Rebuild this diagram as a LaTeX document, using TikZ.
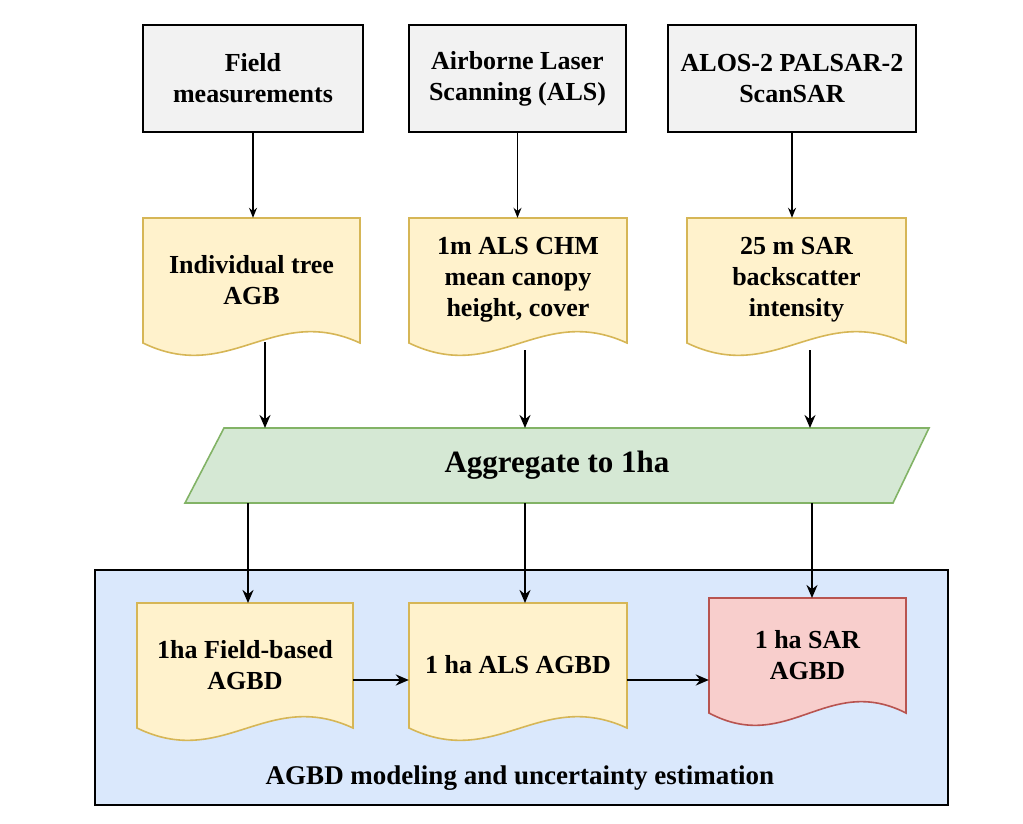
\documentclass[tikz,border=0pt]{standalone}
\usepackage{fontspec}
\setmainfont{Liberation Serif}
\usetikzlibrary{arrows.meta,calc}
\definecolor{gfill}{HTML}{F2F2F2}
\definecolor{yfill}{HTML}{FFF2CC}\definecolor{ydraw}{HTML}{D6B656}
\definecolor{rfill}{HTML}{F8CECC}\definecolor{rdraw}{HTML}{B85450}
\definecolor{grfill}{HTML}{D5E8D4}\definecolor{grdraw}{HTML}{82B366}
\definecolor{bfill}{HTML}{DAE8FC}
\newcommand{\docpath}[5]{% x1 y1 x2 y2 style
  \path[#5] (#1,#2) -- (#3,#2) -- (#3,#4-22)
    .. controls ({#1+0.6*(#3-#1)},#4-62) and ({#1+0.4*(#3-#1)},#4+20) .. (#1,#4-22) -- cycle;}
\tikzset{
  x=1pt,y=-1pt,
  txt/.style={font=\fontsize{26}{31}\selectfont\bfseries,align=center},
  src/.style={txt,draw=black,fill=gfill,line width=1.6pt,minimum width=#1,minimum height=107pt,inner sep=0},
  dnode/.style={txt,minimum width=#1,inner sep=0},
  thin/.style={-{Stealth[length=10pt,width=8pt]},line width=1.3pt},
  thick/.style={-{Stealth[length=13pt,width=11pt]},line width=2.2pt},
}
\begin{document}
\begin{tikzpicture}
\useasboundingbox (0,0) rectangle (1023,824);
% container
\draw[fill=bfill,line width=1.6pt] (95,570) rectangle (948,805);
\node[txt,font=\fontsize{27}{31}\selectfont\bfseries] (cap) at (520,778) {AGBD modeling and uncertainty estimation};
% sources
\node[src=220pt] (s1) at (253,78.5) {Field\\measurements};
\node[src=217pt] (s2) at (517.5,78.5) {Airborne Laser\\Scanning (ALS)};
\node[src=248pt] (s3) at (792,78.5) {ALOS-2 PALSAR-2\\ScanSAR};
% documents
\docpath{143}{218}{360}{365}{draw=ydraw,fill=yfill,line width=1.6pt}
\docpath{409}{218}{627}{365}{draw=ydraw,fill=yfill,line width=1.6pt}
\docpath{687}{218}{906}{365}{draw=ydraw,fill=yfill,line width=1.6pt}
\node[dnode=217pt,minimum height=124pt] (d1) at (251.5,280) {Individual tree\\AGB};
\node[dnode=218pt,minimum height=124pt] (d2) at (518,280) {1m ALS CHM\\mean canopy\\height, cover};
\node[dnode=219pt,minimum height=124pt] (d3) at (796.5,280) {25 m SAR\\backscatter\\intensity};
% aggregate
\draw[draw=grdraw,fill=grfill,line width=1.6pt] (224,428) -- (929,428) -- (893,503) -- (185,503) -- cycle;
\node[txt,font=\fontsize{31}{35}\selectfont\bfseries] (agg) at (557,465.5) {Aggregate to 1ha};
\coordinate (a1t) at (265,428); \coordinate (a2t) at (525,428); \coordinate (a3t) at (810,428);
\coordinate (a1b) at (248,503); \coordinate (a2b) at (525,503); \coordinate (a3b) at (812,503);
% lower docs
\docpath{137}{603}{353}{750}{draw=ydraw,fill=yfill,line width=1.6pt}
\docpath{409}{603}{627}{750}{draw=ydraw,fill=yfill,line width=1.6pt}
\docpath{709}{598}{906}{735}{draw=rdraw,fill=rfill,line width=1.6pt}
\node[dnode=216pt,minimum height=124pt] (e1) at (245,665) {1ha Field-based\\AGBD};
\node[dnode=218pt,minimum height=124pt] (e2) at (518,665) {1 ha ALS AGBD};
\node[dnode=197pt,minimum height=114pt] (e3) at (807.5,655) {1 ha SAR\\AGBD};
% arrows
\draw[thin] (s1.south) -- (s1.south|-d1.north);
\draw[thin] (s2.south) -- (s2.south|-d2.north);
\draw[thin] (s3.south) -- (s3.south|-d3.north);
\draw[thick] (265,342) -- (a1t);
\draw[thick] (525,350) -- (a2t);
\draw[thick] (810,350) -- (a3t);
\draw[thick] (a1b) -- (248,603);
\draw[thick] (a2b) -- (525,603);
\draw[thick] (a3b) -- (812,598);
\draw[thick] (e1.east|-0,680) -- (e2.west|-0,680);
\draw[thick] (e2.east|-0,680) -- (e3.west|-0,680);
\end{tikzpicture}
\end{document}
